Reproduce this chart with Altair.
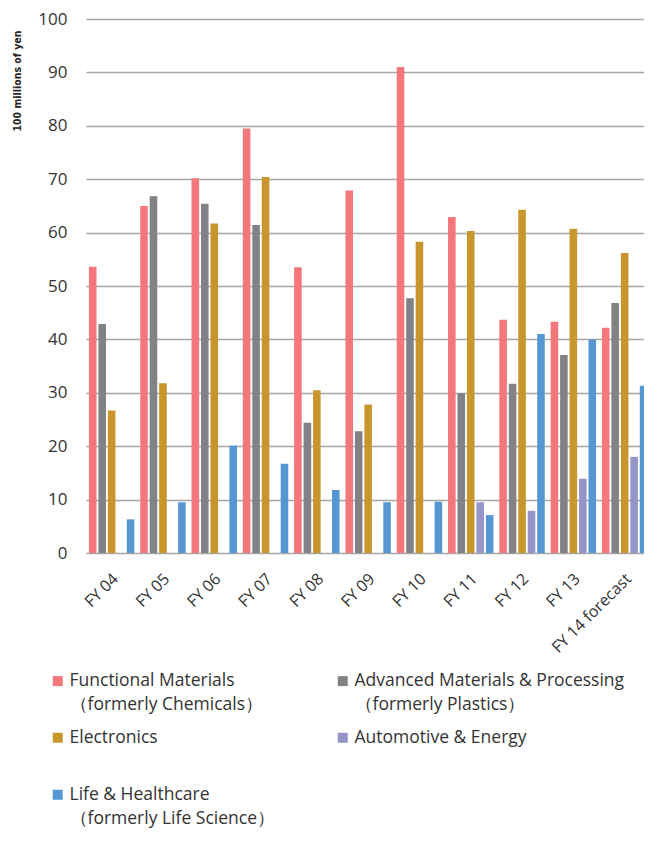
import altair as alt
import pandas as pd

categories = ["FY 04", "FY 05", "FY 06", "FY 07", "FY 08", "FY 09", "FY 10",
              "FY 11", "FY 12", "FY 13", "FY 14 forecast"]
series = [
    "Functional Materials（formerly Chemicals）",
    "Advanced Materials & Processing（formerly Plastics）",
    "Electronics",
    "Automotive & Energy",
    "Life & Healthcare（formerly Life Science）",
]
functional = [53.6, 65.0, 70.2, 79.5, 53.5, 67.9, 91.0, 62.9, 43.7, 43.3, 42.2]
advanced = [42.9, 66.8, 65.4, 61.4, 24.4, 22.8, 47.7, 29.9, 31.7, 37.1, 46.8]
electronics = [26.7, 31.8, 61.7, 70.4, 30.5, 27.8, 58.3, 60.3, 64.3, 60.7, 56.2]
automotive = [None, None, None, None, None, None, None, 9.5, 7.9, 13.9, 18.0]
life = [6.3, 9.5, 20.1, 16.7, 11.8, 9.5, 9.6, 7.1, 41.0, 40.0, 31.3]
colors = ["#F4777B", "#808285", "#C8962D", "#9595C9", "#5596D3"]

rows = []
for name, vals in zip(series, [functional, advanced, electronics, automotive, life]):
    for c, v in zip(categories, vals):
        if v is not None:
            rows.append({"category": c, "series": name, "value": v})
df = pd.DataFrame(rows)

label_expr = ("indexof(datum.label, '（') > 0 ? "
              "[substring(datum.label, 0, indexof(datum.label, '（')), "
              "substring(datum.label, indexof(datum.label, '（'))] : [datum.label, ' ']")

chart = alt.Chart(df).mark_bar(clip=True).encode(
    x=alt.X("category:N", sort=categories, title=None,
            scale=alt.Scale(domain=categories, range=[0, 564.3], paddingInner=0, paddingOuter=0),
            axis=alt.Axis(domain=False, ticks=False, grid=False, labelAngle=-45,
                          labelAlign="right", labelBaseline="middle", labelPadding=23,
                          labelOffset=4, labelFont="Open Sans", labelFontSize=16,
                          labelColor="#333333")),
    xOffset=alt.XOffset("series:N", sort=series,
                        scale=alt.Scale(domain=series, paddingInner=0.2, paddingOuter=0.31)),
    y=alt.Y("value:Q", title="100 millions of yen",
            scale=alt.Scale(domain=[0, 100], nice=False),
            axis=alt.Axis(values=list(range(0, 101, 10)), domain=False, ticks=False,
                          labelPadding=19, labelFont="Open Sans", labelFontSize=17,
                          labelColor="#333333", gridColor="#a6a6a6", gridWidth=1.5,
                          titleFont="Liberation Sans Narrow, DejaVu Sans Condensed",
                          titleFontSize=10.5, titleFontWeight="bold", titleColor="#222222",
                          titleAngle=-90, titleAlign="right", titleBaseline="middle",
                          titleX=-69, titleY=11)),
    color=alt.Color("series:N", sort=series,
                    scale=alt.Scale(domain=series, range=colors),
                    legend=alt.Legend(title=None, orient="none", legendX=-37, legendY=653,
                                      direction="horizontal",
                                      columns=2, columnPadding=59, rowPadding=14,
                                      symbolType="square", symbolSize=100,
                                      symbolStrokeWidth=0, labelOffset=3,
                                      labelFont="Open Sans", labelFontSize=17.5,
                                      labelColor="#333333", labelLimit=400,
                                      labelExpr=label_expr, padding=0)),
).properties(
    width=558, height=534,
    autosize=alt.AutoSizeParams(type="none"),
    padding={"left": 78, "top": 11, "right": 0, "bottom": 280},
).configure(style={"guide-label": {"lineHeight": 24}}).configure_view(strokeWidth=0)

chart.save("out.html", embed_options={"renderer": "svg", "actions": False})
